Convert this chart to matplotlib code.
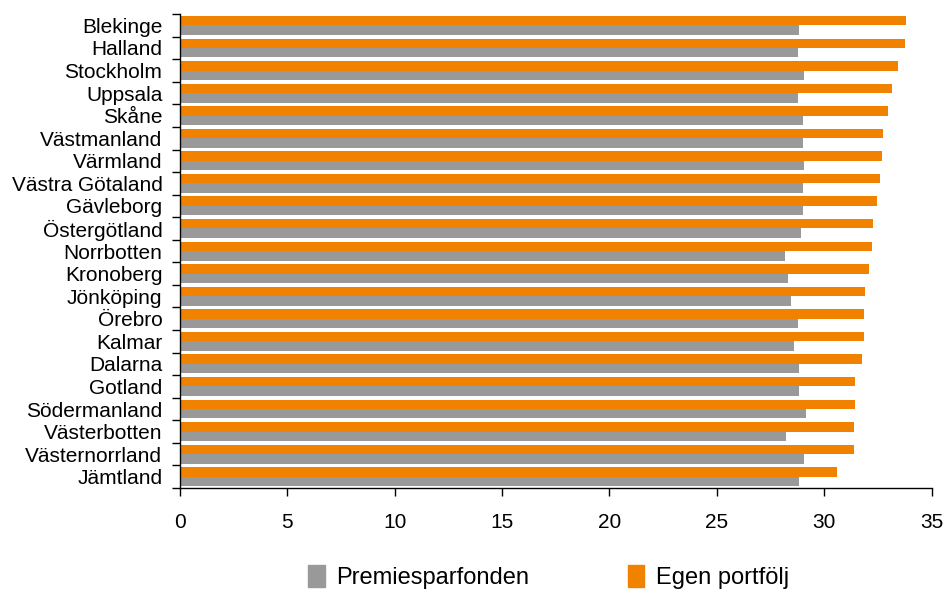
import numpy as np
import matplotlib
matplotlib.use('Agg')
import matplotlib.pyplot as plt
from matplotlib.patches import Patch

plt.rcParams['font.family'] = ['Liberation Sans', 'DejaVu Sans']

# data
regions = ['Blekinge', 'Halland', 'Stockholm', 'Uppsala', 'Skåne', 'Västmanland',
           'Värmland', 'Västra Götaland', 'Gävleborg', 'Östergötland', 'Norrbotten',
           'Kronoberg', 'Jönköping', 'Örebro', 'Kalmar', 'Dalarna', 'Gotland',
           'Södermanland', 'Västerbotten', 'Västernorrland', 'Jämtland']
egen = [33.79, 33.74, 33.42, 33.14, 32.95, 32.72, 32.67, 32.58, 32.44, 32.25, 32.21,
        32.07, 31.88, 31.83, 31.83, 31.74, 31.42, 31.42, 31.37, 31.37, 30.58]
premie = [28.81, 28.76, 29.04, 28.76, 28.99, 28.99, 29.04, 28.99, 28.99, 28.90, 28.16,
          28.30, 28.44, 28.76, 28.58, 28.81, 28.81, 29.14, 28.21, 29.04, 28.81]
xticks = [0, 5, 10, 15, 20, 25, 30, 35]

c_orange = '#F08200'
c_gray = '#999999'

fig = plt.figure(figsize=(9.46, 5.89), dpi=100)
ax = fig.add_axes([0.190, 0.1715, 0.795, 0.8045])

y = np.arange(len(regions))
h = 0.42
ax.barh(y - h / 2, egen, height=h, color=c_orange, label='Egen portfölj')
ax.barh(y + h / 2, premie, height=h, color=c_gray, label='Premiesparfonden')

ax.set_ylim(len(regions) - 0.5, -0.5)
ax.set_xlim(0, 35)

# labels at category centres, tick marks at category boundaries
ax.set_yticks(y)
ax.set_yticklabels(regions, fontsize=15)
ax.tick_params(axis='y', which='major', length=0, pad=12.5)
ax.set_yticks(np.arange(len(regions) + 1) - 0.5, minor=True)
ax.tick_params(axis='y', which='minor', length=6, width=1, direction='out')

ax.set_xticks(xticks)
ax.set_xticklabels([str(v) for v in xticks], fontsize=15)
ax.tick_params(axis='x', length=6, width=1, direction='out', pad=12)

for s in ['top', 'right']:
    ax.spines[s].set_visible(False)
ax.spines['left'].set_linewidth(1)
ax.spines['bottom'].set_linewidth(1)

handles = [Patch(color=c_gray), Patch(color=c_orange)]
fig.legend(handles, ['Premiesparfonden', 'Egen portfölj'], loc='center',
           bbox_to_anchor=(0.58, 0.02), ncol=2, frameon=False, fontsize=17,
           handlelength=0.7, handleheight=1.0, handletextpad=0.5,
           columnspacing=4.15)

fig.savefig('out.png', dpi=100)
